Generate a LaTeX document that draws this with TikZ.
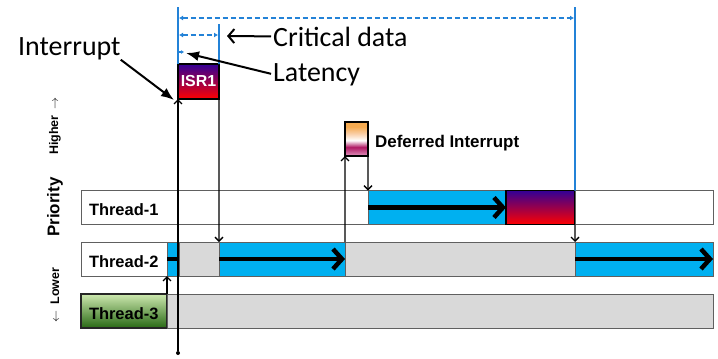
\documentclass[tikz,border=0pt]{standalone}
\usepackage{fontspec}
\setmainfont{Liberation Sans}
\newfontfamily\calibri{Carlito}
\usetikzlibrary{arrows.meta}

\definecolor{runblue}{RGB}{0,176,240}
\definecolor{waitgrey}{RGB}{217,217,217}
\definecolor{lineblue}{RGB}{35,130,215}
\definecolor{isrtop}{RGB}{50,0,150}
\definecolor{isrmid}{RGB}{165,0,115}
\definecolor{isrbot}{RGB}{255,0,0}
\definecolor{greentop}{RGB}{205,232,175}
\definecolor{greenmid}{RGB}{120,180,80}
\definecolor{greenbot}{RGB}{40,105,20}
\definecolor{deforange}{RGB}{245,170,80}
\definecolor{defpeach}{RGB}{250,210,175}
\definecolor{defmag}{RGB}{175,25,100}
\definecolor{defpink}{RGB}{225,150,190}

\pgfdeclareverticalshading{deferred}{100bp}{color(0bp)=(defpink); color(25bp)=(defpink); color(38bp)=(defmag); color(48bp)=(white); color(57bp)=(defpeach); color(68bp)=(deforange); color(100bp)=(deforange)}

\begin{document}
\begin{tikzpicture}[
        x=1bp, y=-1bp,
        font=\bfseries
    ]
    \tikzset{
        seg/.style = {rectangle, anchor=north west, minimum height=34bp, inner sep=0pt, outer sep=0pt, draw=gray!75!black, line width=0.8bp},
        segw/.style = {seg, fill=white},
        segc/.style = {seg, fill=runblue},
        segg/.style = {seg, fill=waitgrey},
        labbox/.style = {seg, inner xsep=8bp, align=left, text height=16bp, text depth=0pt, font=\bfseries\fontsize{16.5}{18}\selectfont},
        isrbox/.style = {seg, draw=black, line width=1.3bp, top color=isrtop, middle color=isrmid, bottom color=isrbot},
        evt/.style = {line width=1.3bp, -{Straight Barb[length=4bp,width=8bp]}},
        runarr/.style = {line width=4.5bp, -{Straight Barb[length=9bp,width=20bp]}},
        bluev/.style = {draw=lineblue, line width=1.8bp},
        bluedash/.style = {draw=lineblue, line width=1.5bp, dash pattern=on 5bp off 3bp, {Latex[length=4bp,width=5bp]}-{Latex[length=4bp,width=5bp]}},
        callout/.style = {line width=2bp, -{Latex[length=13bp,width=10bp]}},
        calloutb/.style = {line width=2bp, -{Straight Barb[length=6bp,width=14bp]}},
        calltext/.style = {font=\calibri\fontsize{28}{30}\selectfont, inner sep=0pt, anchor=base west},
        prio/.style = {rotate=90, inner sep=0pt},
    }
    \useasboundingbox (0,0) rectangle (718,358);
    % rows
    \node[labbox, fill=white, text width=271bp] (t1lab) at (81,190.5) {Thread-1};
    \node[segc, minimum width=138bp] (t1run) at (368,190.5) {};
    \node[isrbox, minimum width=69bp] (t1isr) at (506,190.5) {};
    \node[segw, minimum width=138bp] (t1idle) at (575,190.5) {};
    %
    \node[labbox, fill=white, text width=70bp] (t2lab) at (81,242) {Thread-2};
    \node[segc, minimum width=12bp] (t2pre) at (167,242) {};
    \node[segg, minimum width=40bp] (t2wait1) at (179,242) {};
    \node[segc, minimum width=126bp] (t2run1) at (219,242) {};
    \node[segg, minimum width=230bp] (t2wait2) at (345,242) {};
    \node[segc, minimum width=138bp] (t2run2) at (575,242) {};
    %
    \node[labbox, draw=black!85, line width=1.2bp, top color=greentop, middle color=greenmid, bottom color=greenbot, text width=70bp] (t3lab) at (81,294) {Thread-3};
    \node[segg, minimum width=546bp] (t3wait) at (167,294) {};
    %
    \node[isrbox, minimum width=41bp, minimum height=35bp, text=white, font=\bfseries\fontsize{16}{18}\selectfont] (isr) at (178,64) {ISR1};
    \node[seg, draw=black, line width=1.3bp, shade, shading=deferred, minimum width=23bp] (defer) at (345,122) {};
    \node[font=\bfseries\fontsize{17}{19}\selectfont, anchor=base west, inner sep=0pt] (deflab) at (375,147) {Deferred Interrupt};
    %
    \node[prio, font=\bfseries\fontsize{12.5}{14}\selectfont] (hi) at (55,126) {Higher\enspace$\rightarrow$};
    \node[prio, font=\bfseries\fontsize{17}{19}\selectfont] (pr) at (55,207) {Priority};
    \node[prio, font=\bfseries\fontsize{12.5}{14}\selectfont] (lo) at (55,295) {$\leftarrow$\enspace Lower};
    %
    \draw[runarr] (t1run.west) -- (t1run.east);
    \draw[runarr] (t2run1.west) -- (t2run1.east);
    \draw[runarr] (t2run2.west) -- (t2run2.east);
    \draw[line width=4.5bp] (t2pre.west) -- (t2pre.east);
    %
    \node[circle, fill=black, inner sep=0pt, minimum size=4bp] (irq) at (178,353) {};
    \draw[evt] (irq) -- (isr.south west);
    \draw[evt] (isr.south east) -- (t2run1.north west);
    \draw[evt] (t2run1.north east) -- (defer.south west);
    \draw[evt] (defer.south east) -- (t1run.north west);
    \draw[evt] (t1isr.south east) -- (t2run2.north west);
    \draw[evt] (t3lab.north east) -- (t2lab.south east);
    %
    \coordinate (top0) at (178,7);
    \coordinate (top1) at (219,24);
    \coordinate (top2) at (575,7);
    \draw[bluev] (isr.north west) -- (top0);
    \draw[bluev] (isr.north east) -- (top1);
    \draw[bluev] (t1isr.north east) -- (top2);
    \coordinate (respL) at (179,18);
    \coordinate (respR) at (574,18);
    \coordinate (critL) at (179,35);
    \coordinate (critR) at (218,35);
    \coordinate (latL) at (179,52);
    \coordinate (latR) at (184,52);
    \draw[bluedash] (respL) -- (respR);
    \draw[bluedash] (critL) -- (critR);
    \draw[draw=lineblue, line width=1.5bp, -{Latex[length=3bp,width=4bp]}] (latL) -- (latR);
    %
    \node[calltext] (irqlab) at (18,55) {Interrupt};
    \node[calltext] (critlab) at (273,46) {Critical data};
    \node[calltext] (latlab) at (273,81) {Latency};
    \coordinate (irqtip) at (174,100);
    \coordinate (crittip) at (227,36);
    \coordinate (lattip) at (186,53);
    \draw[callout] (irqlab.south east) -- (irqtip);
    \draw[calloutb, shorten <=2bp] (critlab.west) -- (crittip);
    \draw[callout, shorten <=2bp] (latlab.west) -- (lattip);
\end{tikzpicture}
\end{document}
